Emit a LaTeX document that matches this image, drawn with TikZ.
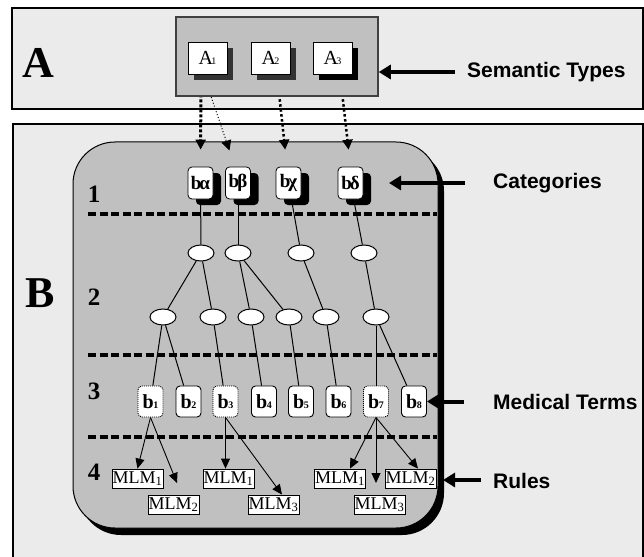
\documentclass[tikz,border=0pt]{standalone}
\usepackage{fontspec}
\setmainfont{Liberation Serif}
\setsansfont{Liberation Sans}
\usetikzlibrary{arrows.meta,shadows,shapes.geometric,calc}
\definecolor{panelbg}{HTML}{EBEBEB}
\definecolor{regiongray}{HTML}{C0C0C0}
\definecolor{shadowdark}{HTML}{333333}
\definecolor{boxedge}{HTML}{404040}
\pgfdeclarelayer{back}
\pgfdeclarelayer{mid}
\pgfsetlayers{back,mid,main}
\begin{document}
\begin{tikzpicture}[x=1pt,y=-1pt,
  panel/.style={draw=black,line width=1.5pt,fill=panelbg},
  asty/.style={draw=black,line width=0.8pt,fill=white,minimum width=39pt,minimum height=32pt,inner sep=0pt,font=\fontsize{20}{20}\selectfont},
  ashadow/.style={drop shadow={shadow xshift=6pt,shadow yshift=-6pt,fill=#1,opacity=1}},
  catbox/.style={draw=black,line width=0.8pt,fill=white,rounded corners=4pt,minimum width=25pt,minimum height=32pt,inner sep=0pt,font=\fontsize{19}{19}\selectfont\bfseries,drop shadow={shadow xshift=8pt,shadow yshift=-6pt,fill=black,opacity=1}},
  oval/.style={ellipse,draw=black,line width=1pt,fill=white,minimum width=26pt,minimum height=16pt,inner sep=0pt},
  term/.style={draw=black,line width=0.9pt,fill=white,rounded corners=4pt,minimum width=25pt,minimum height=31pt,inner sep=0pt,font=\fontsize{20}{20}\selectfont\bfseries},
  termdot/.style={term,dash pattern=on 1pt off 1pt},
  mlm/.style={draw=black,line width=0.8pt,fill=white,minimum width=51pt,minimum height=19pt,inner sep=0pt,font=\fontsize{18}{18}\selectfont},
  link/.style={line width=1pt},
  tarrow/.style={line width=0.9pt,-{Triangle[length=10pt,width=9pt]}},
  dotarrow/.style={-{Triangle[length=10pt,width=10pt]},shorten >=17pt},
  bigarrow/.style={line width=4pt,-{Triangle[length=12pt,width=14pt]}},
  sepline/.style={line width=3.5pt,dash pattern=on 8pt off 3.5pt},
  biglabel/.style={font=\fontsize{44}{44}\selectfont\bfseries,inner sep=0pt},
  rownum/.style={font=\fontsize{25}{25}\selectfont\bfseries,inner sep=0pt},
  side/.style={font=\sffamily\bfseries\fontsize{21}{21}\selectfont,anchor=west,inner sep=0pt}
]
\useasboundingbox (0,0) rectangle (644,556);

% panels and region
\begin{pgfonlayer}{back}
  \draw[panel] (12,8) rectangle (643,109);
  \draw[panel] (13,124) rectangle (643,575);
  \fill[black,rounded corners=42pt] (79,149) rectangle (444,535);
  \filldraw[fill=regiongray,draw=black,line width=1pt,rounded corners=42pt] (73,142) rectangle (438,528);
  \draw[sepline] (88,214) -- (437,214);
  \draw[sepline] (88,355) -- (437,355);
  \draw[sepline] (88,437) -- (437,437);
\end{pgfonlayer}

% panel A
\node[biglabel] (LA) at (38,63) {A};
\node[draw=boxedge,line width=1.5pt,fill=regiongray,minimum width=202pt,minimum height=79pt,inner sep=0pt] (grpA) at (277,56.5) {};
\node[asty,ashadow=shadowdark] (A1) at (207.5,58) {A\kern-1.5pt{\fontsize{10}{10}\selectfont 1}};
\node[asty,ashadow=shadowdark] (A2) at (270.5,58) {A\kern-1.5pt{\fontsize{10}{10}\selectfont 2}};
\node[asty,ashadow=black] (A3) at (332.5,58) {A\kern-1.5pt{\fontsize{10}{10}\selectfont 3}};
\node[side] (st) at (467,72) {Semantic Types};
\coordinate (stt) at (455,72);
\draw[bigarrow] (stt) -- (stt -| grpA.east);

% panel B labels
\node[biglabel] (LB) at (40,293) {B};
\node[rownum] (r1) at (94,194) {1};
\node[rownum] (r2) at (94,297) {2};
\node[rownum] (r3) at (94,391) {3};
\node[rownum] (r4) at (94,472) {4};

% categories
\node[catbox] (ba) at (200.5,183) {b\kern-2pt α};
\node[catbox] (bb) at (238,183) {b\kern-2pt β};
\node[catbox] (bc) at (288.5,183) {b\kern-2pt χ};
\node[catbox] (bd) at (350.5,183) {b\kern-2pt δ};

% ellipses
\node[oval] (e1) at (201,253) {};
\node[oval] (e2) at (238,253) {};
\node[oval] (e3) at (301,253) {};
\node[oval] (e4) at (364,253) {};
\node[oval] (f1) at (163,317) {};
\node[oval] (f2) at (213,317) {};
\node[oval] (f3) at (251,317) {};
\node[oval] (f4) at (289,317) {};
\node[oval] (f5) at (326,317) {};
\node[oval] (f6) at (376,317) {};

% terms
\node[termdot] (t1) at (150.5,401.5) {b\kern-0.5pt{\fontsize{10}{10}\selectfont 1}};
\node[term]    (t2) at (188.5,401.5) {b\kern-0.5pt{\fontsize{10}{10}\selectfont 2}};
\node[termdot] (t3) at (225.5,401.5) {b\kern-0.5pt{\fontsize{10}{10}\selectfont 3}};
\node[term]    (t4) at (264,401.5) {b\kern-0.5pt{\fontsize{10}{10}\selectfont 4}};
\node[term]    (t5) at (301,401.5) {b\kern-0.5pt{\fontsize{10}{10}\selectfont 5}};
\node[term]    (t6) at (338.5,401.5) {b\kern-0.5pt{\fontsize{10}{10}\selectfont 6}};
\node[termdot] (t7) at (376,401.5) {b\kern-0.5pt{\fontsize{10}{10}\selectfont 7}};
\node[term]    (t8) at (414,401.5) {b\kern-0.5pt{\fontsize{10}{10}\selectfont 8}};

% MLM boxes
\node[mlm] (m11) at (137.5,478.5) {MLM\textsubscript{1}};
\node[mlm] (m12) at (173.5,504.5) {MLM\textsubscript{2}};
\node[mlm] (m21) at (228.5,478.5) {MLM\textsubscript{1}};
\node[mlm] (m23) at (273.5,504.5) {MLM\textsubscript{3}};
\node[mlm] (m31) at (340,478.5) {MLM\textsubscript{1}};
\node[mlm] (m32) at (410.5,478.5) {MLM\textsubscript{2}};
\node[mlm] (m33) at (379.5,504.5) {MLM\textsubscript{3}};
\coordinate (g1end) at (177,483);
\coordinate (g3end) at (376,483);

% side labels
\node[side] (lcat) at (493,183) {Categories};
\node[side] (lmt) at (493,402) {Medical Terms};
\node[side] (lru) at (493,481) {Rules};
\coordinate (catt) at (465,183);
\coordinate (cattip) at (389,183);
\coordinate (mtt) at (464,401.5);
\coordinate (rut) at (481,480);
\coordinate (rutip) at (443,480);
\draw[bigarrow] (catt) -- (cattip);
\draw[bigarrow] (mtt) -- (t8.east);
\draw[bigarrow] (rut) -- (rutip);

% connectors
\begin{pgfonlayer}{mid}
  \draw[dotarrow,line width=3pt,dash pattern=on 3pt off 2pt] ([xshift=-6.5pt]A1.south) -- (ba.north);
  \draw[dotarrow,line width=1pt,dash pattern=on 1pt off 2pt] ([xshift=-4pt]A1.south) -- ([xshift=-3pt]bb.north);
  \draw[dotarrow,line width=2.5pt,dash pattern=on 2.5pt off 2.5pt] ([xshift=6.5pt]A2.south) -- ([xshift=-1.5pt]bc.north);
  \draw[dotarrow,line width=2.5pt,dash pattern=on 2.5pt off 2.5pt] ([xshift=7.5pt]A3.south) -- (bd.north);
  \draw[link] (ba) -- (e1);
  \draw[link] (bb) -- (e2);
  \draw[link] (bc) -- (e3);
  \draw[link] (bd) -- (e4);
  \draw[link] (e1) -- (f1);
  \draw[link] (e1) -- (f2);
  \draw[link] (e2) -- (f3);
  \draw[link] (e2) -- (f4);
  \draw[link] (e3) -- (f5);
  \draw[link] (e4) -- (f6);
  \draw[link] (f1) -- (t1);
  \draw[link] (f1) -- (t2);
  \draw[link] (f2) -- (t3);
  \draw[link] (f3) -- (t4);
  \draw[link] (f4) -- (t5);
  \draw[link] (f5) -- (t6);
  \draw[link] (f6) -- (t7);
  \draw[link] (f6) -- (t8);
  \draw[tarrow] (t1.south) -- (m11.north);
  \draw[tarrow] (t1.south) -- (g1end);
  \draw[tarrow] (t3.south) -- (t3.south |- m21.north);
  \draw[tarrow] (t3.south) -- ([xshift=8.5pt]m23.north);
  \draw[tarrow] (t7.south) -- ([xshift=10pt]m31.north);
  \draw[tarrow] (t7.south) -- ([xshift=7.5pt]m32.north);
  \draw[tarrow] (t7.south) -- (g3end);
\end{pgfonlayer}
\end{tikzpicture}
\end{document}
